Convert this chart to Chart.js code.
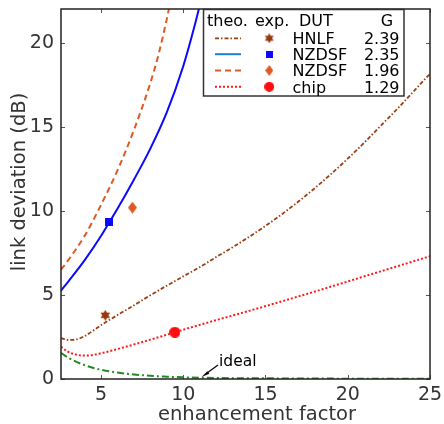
<!DOCTYPE html>
<html>
<head>
<meta charset="utf-8">
<script src="https://cdn.jsdelivr.net/npm/chart.js@4"></script>
<style>
  html, body { margin: 0; padding: 0; background: #fff; }
</style>
</head>
<body>
<canvas id="devChart" width="444" height="424"></canvas>
<script>
const xTicks = [5, 10, 15, 20, 25];
const yTicks = [0, 5, 10, 15, 20];

// theory curves
const hnlfX = [2.57, 3, 3.5, 4, 5, 6, 7, 8, 9, 10, 11, 12, 13, 14, 15, 16, 17, 18, 19, 20, 21, 22, 23, 24, 25];
const hnlfY = [2.43, 2.32, 2.35, 2.55, 3.2, 3.8, 4.38, 4.98, 5.55, 6.1, 6.65, 7.25, 7.83, 8.45, 9.1, 9.8, 10.55, 11.35, 12.2, 13.1, 14.05, 15.05, 16.05, 17.1, 18.15];

const nzdsfAX = [2.57, 3, 4, 5, 5.5, 6, 7, 8, 9, 10, 10.5, 11, 11.3];
const nzdsfAY = [5.25, 5.78, 7.05, 8.5, 9.31, 10.12, 11.85, 13.7, 15.85, 18.6, 20.3, 22.2, 23.5];

const nzdsfBX = [2.57, 3, 4, 5, 6, 7, 8, 8.5, 9, 9.3];
const nzdsfBY = [6.5, 7.05, 8.5, 10.35, 12.4, 14.8, 17.6, 19.3, 21.4, 22.8];

const chipX = [2.57, 3, 3.5, 4, 4.5, 5, 6, 7, 8, 9, 10, 12, 14, 16, 18, 20, 22, 25];
const chipY = [1.92, 1.62, 1.45, 1.39, 1.43, 1.53, 1.78, 2.05, 2.34, 2.63, 2.93, 3.5, 4.05, 4.62, 5.2, 5.8, 6.4, 7.3];

const idealX = [2.57, 3, 3.5, 4, 4.5, 5, 6, 7, 8, 9, 10, 12, 15, 20, 25];
const idealY = [1.55, 1.27, 1.02, 0.83, 0.67, 0.55, 0.38, 0.27, 0.19, 0.14, 0.1, 0.06, 0.04, 0.02, 0.01];

// measured points (x = enhancement, y = deviation)
const expX = [5.26, 5.5, 6.91, 9.49];
const expY = [3.79, 9.31, 10.19, 2.78];

const dutNames = ['HNLF', 'NZDSF', 'NZDSF', 'chip'];
const gains = ['2.39', '2.35', '1.96', '1.29'];

const FONT = '"DejaVu Sans", Verdana, sans-serif';

function pts(xs, ys) {
    return xs.map((x, i) => ({x: x, y: ys[i]}));
}

function makeMarker(kind, color, w, h) {
    const c = document.createElement('canvas');
    c.width = w;
    c.height = h;
    const g = c.getContext('2d');
    g.fillStyle = color;
    g.beginPath();
    if (kind === 'hex') {
        const r = w / 2, cx = w / 2, cy = h / 2;
        for (let t = 0; t < 2; t++) {
            for (let k = 0; k < 3; k++) {
                const a = -Math.PI / 2 + t * Math.PI + k * 2 * Math.PI / 3;
                const px = cx + r * Math.cos(a), py = cy + r * Math.sin(a);
                if (k === 0) g.moveTo(px, py); else g.lineTo(px, py);
            }
            g.closePath();
        }
    } else if (kind === 'square') {
        g.rect(0, 0, w, h);
    } else if (kind === 'diamond') {
        g.moveTo(w / 2, 0);
        g.lineTo(w, h / 2);
        g.lineTo(w / 2, h);
        g.lineTo(0, h / 2);
        g.closePath();
    } else {
        g.arc(w / 2, h / 2, w / 2, 0, Math.PI * 2);
    }
    g.fill();
    return c;
}

const colHnlf = '#9c3f12';
const colBlue = '#0a0aff';
const colOrange = '#de5a22';
const colRed = '#ff1a1a';
const colGreen = '#1e8c1e';

const markers = [
    makeMarker('hex', '#963a0e', 11, 11),
    makeMarker('square', '#0a0aff', 8, 8),
    makeMarker('diamond', colOrange, 9, 12),
    makeMarker('circle', '#ff0d0d', 11, 11)
];
const legendMarkers = [
    makeMarker('hex', '#963a0e', 10, 10),
    makeMarker('square', '#0a0aff', 7, 7),
    makeMarker('diamond', colOrange, 8, 11),
    makeMarker('circle', '#ff0d0d', 10, 10)
];

const lineStyles = [
    {color: colHnlf, dash: [4, 2, 1.5, 2], width: 1.8},
    {color: '#1f7fcf', dash: [], width: 2},
    {color: colOrange, dash: [6, 4], width: 2},
    {color: colRed, dash: [2, 2], width: 2}
];

const decorPlugin = {
    id: 'decor',
    afterDatasetsDraw(chart) {
        const ctx = chart.ctx;
        const a = chart.chartArea;
        const xs = chart.scales.x, ys = chart.scales.y;
        ctx.save();

        // inward tick marks on all four sides
        ctx.strokeStyle = '#555';
        ctx.lineWidth = 1;
        ctx.beginPath();
        xTicks.forEach(v => {
            const px = Math.round(xs.getPixelForValue(v)) + 0.5;
            ctx.moveTo(px, a.bottom); ctx.lineTo(px, a.bottom - 4);
            ctx.moveTo(px, a.top); ctx.lineTo(px, a.top + 4);
        });
        yTicks.forEach(v => {
            const py = Math.round(ys.getPixelForValue(v)) + 0.5;
            ctx.moveTo(a.left, py); ctx.lineTo(a.left + 4, py);
            ctx.moveTo(a.right, py); ctx.lineTo(a.right - 4, py);
        });
        ctx.stroke();

        // frame
        ctx.strokeStyle = '#222';
        ctx.lineWidth = 1.5;
        ctx.strokeRect(a.left, a.top, a.right - a.left, a.bottom - a.top);

        // "ideal" note with arrow
        ctx.fillStyle = '#000';
        ctx.font = '15.5px ' + FONT;
        ctx.textBaseline = 'alphabetic';
        ctx.textAlign = 'left';
        ctx.fillText('ideal', 219, 366);
        ctx.strokeStyle = '#000';
        ctx.lineWidth = 1.2;
        ctx.beginPath();
        ctx.moveTo(218, 365);
        ctx.lineTo(205, 374.5);
        ctx.stroke();
        ctx.beginPath();
        ctx.moveTo(201.5, 377);
        ctx.lineTo(207.5, 371.2);
        ctx.lineTo(209.3, 373.7);
        ctx.closePath();
        ctx.fill();

        // legend table
        const lx0 = 203.5, ly0 = 9.5, lx1 = 404, ly1 = 96;
        ctx.fillStyle = '#fff';
        ctx.fillRect(lx0, ly0, lx1 - lx0, ly1 - ly0);
        ctx.strokeStyle = '#333';
        ctx.lineWidth = 1.5;
        ctx.strokeRect(lx0, ly0, lx1 - lx0, ly1 - ly0);

        ctx.fillStyle = '#000';
        ctx.font = '16px ' + FONT;
        ctx.fillText('theo.', 207, 25.5);
        ctx.fillText('exp.', 255, 25.5);
        ctx.fillText('DUT', 299, 25.5);
        ctx.textAlign = 'center';
        ctx.fillText('G', 387, 25.5);

        const rowMid = [38.3, 54.2, 70.5, 86.8];
        rowMid.forEach((cy, i) => {
            const st = lineStyles[i];
            ctx.strokeStyle = st.color;
            ctx.lineWidth = st.width;
            ctx.setLineDash(st.dash);
            ctx.beginPath();
            ctx.moveTo(215, cy);
            ctx.lineTo(241, cy);
            ctx.stroke();
            ctx.setLineDash([]);
            const m = legendMarkers[i];
            ctx.drawImage(m, 269.3 - m.width / 2, cy - m.height / 2);
            ctx.fillStyle = '#000';
            ctx.textAlign = 'left';
            ctx.fillText(dutNames[i], 292.5, cy + 5.8);
            ctx.textAlign = 'right';
            ctx.fillText(gains[i], 399.5, cy + 5.8);
        });

        // axis titles
        ctx.fillStyle = '#333';
        ctx.font = '19.5px ' + FONT;
        ctx.textAlign = 'center';
        ctx.fillText('enhancement factor', 257, 420);
        ctx.translate(24.5, 182);
        ctx.rotate(-Math.PI / 2);
        ctx.fillText('link deviation (dB)', 0, 0);

        ctx.restore();
    }
};

const lineDefaults = {showLine: true, pointRadius: 0, pointHoverRadius: 0, fill: false, cubicInterpolationMode: 'monotone'};

const ctx = document.getElementById('devChart').getContext('2d');
new Chart(ctx, {
    type: 'scatter',
    data: {
        datasets: [
            Object.assign({label: 'ideal', data: pts(idealX, idealY), borderColor: colGreen, borderWidth: 2, borderDash: [7, 3, 2, 3]}, lineDefaults),
            Object.assign({label: 'chip theo', data: pts(chipX, chipY), borderColor: colRed, borderWidth: 2, borderDash: [2, 2]}, lineDefaults),
            Object.assign({label: 'HNLF theo', data: pts(hnlfX, hnlfY), borderColor: colHnlf, borderWidth: 1.8, borderDash: [4, 2, 1.5, 2]}, lineDefaults),
            Object.assign({label: 'NZDSF 1.96 theo', data: pts(nzdsfBX, nzdsfBY), borderColor: colOrange, borderWidth: 2, borderDash: [6, 4]}, lineDefaults),
            Object.assign({label: 'NZDSF 2.35 theo', data: pts(nzdsfAX, nzdsfAY), borderColor: colBlue, borderWidth: 2}, lineDefaults),
            {
                label: 'exp',
                data: pts(expX, expY),
                showLine: false,
                pointStyle: markers,
                pointRadius: 5,
                pointHoverRadius: 5
            }
        ]
    },
    options: {
        responsive: false,
        animation: false,
        events: [],
        layout: {padding: {top: 9, right: 14, left: 0, bottom: 0}},
        plugins: {
            legend: {display: false},
            tooltip: {enabled: false}
        },
        scales: {
            x: {
                type: 'linear',
                min: 2.57,
                max: 25,
                afterBuildTicks: s => { s.ticks = xTicks.map(v => ({value: v})); },
                afterFit: s => { s.height = 45; s.paddingLeft = 0; s.paddingRight = 0; },
                grid: {display: false, drawTicks: false},
                border: {display: false},
                ticks: {color: '#333', padding: 5, font: {family: FONT, size: 19}}
            },
            y: {
                min: 0,
                max: 22,
                afterBuildTicks: s => { s.ticks = yTicks.map(v => ({value: v})); },
                afterFit: s => { s.width = 61; s.paddingTop = 0; s.paddingBottom = 0; },
                grid: {display: false, drawTicks: false},
                border: {display: false},
                ticks: {color: '#333', padding: 7, font: {family: FONT, size: 19}}
            }
        }
    },
    plugins: [decorPlugin]
});
</script>
</body>
</html>
